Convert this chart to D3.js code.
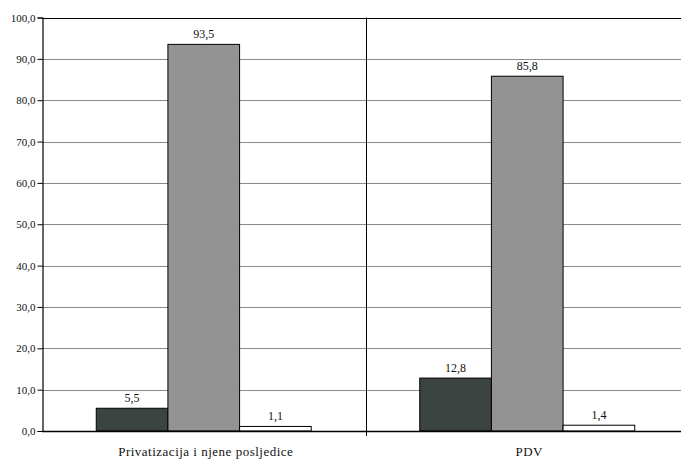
<!DOCTYPE html>
<html>
<head>
<meta charset="utf-8">
<script src="https://cdn.jsdelivr.net/npm/d3@7"></script>
<style>
  body { margin: 0; background: #fff; }
  svg { display: block; font-family: "Liberation Serif", "DejaVu Serif", serif; }
  .grid line { stroke: #8a8a8a; stroke-width: 1; }
</style>
</head>
<body>
<div id="chart"></div>
<script>
var categories = ["Privatizacija i njene posljedice", "PDV"];
var series = ["s1", "s2", "s3"];
var values = [
  [5.5, 93.5, 1.1],
  [12.8, 85.8, 1.4]
];
var yTicks = [0, 10, 20, 30, 40, 50, 60, 70, 80, 90, 100];
var colors = ["#3c4442", "#939393", "#ffffff"];

var W = 681, H = 460;
var pLeft = 42, pRight = 689, pTop = 17.5, pBottom = 431;

var fmt = function(v) { return d3.format(".1f")(v).replace(".", ","); };

var svg = d3.select("#chart")
  .append("svg")
    .attr("width", W)
    .attr("height", H);

var y = d3.scaleLinear().domain([0, 100]).range([pBottom, pTop]);
var x0 = d3.scaleBand().domain(categories).range([pLeft, pRight]);
var x1 = d3.scaleBand().domain(series).range([0, x0.bandwidth()])
  .paddingInner(0).paddingOuter(0.757);

// gridlines
svg.append("g")
  .attr("class", "grid")
  .selectAll("line")
  .data(yTicks.filter(function(d) { return d > 0 && d < 100; }))
  .enter().append("line")
    .attr("x1", pLeft)
    .attr("x2", W)
    .attr("y1", function(d) { return Math.round(y(d)) + 0.5; })
    .attr("y2", function(d) { return Math.round(y(d)) + 0.5; });

// top border
svg.append("line")
  .attr("x1", pLeft).attr("x2", W)
  .attr("y1", Math.round(y(100)) + 0.5).attr("y2", Math.round(y(100)) + 0.5)
  .attr("stroke", "#000");

// category separators
svg.selectAll(".sep")
  .data(categories.slice(1))
  .enter().append("line")
    .attr("class", "sep")
    .attr("x1", function(d) { return Math.round(x0(d)) + 0.5; })
    .attr("x2", function(d) { return Math.round(x0(d)) + 0.5; })
    .attr("y1", y(100))
    .attr("y2", pBottom + 5)
    .attr("stroke", "#000");

// bars
var groups = svg.selectAll(".cat")
  .data(values)
  .enter().append("g")
    .attr("class", "cat")
    .attr("transform", function(d, i) { return "translate(" + x0(categories[i]) + ",0)"; });

groups.selectAll("rect")
  .data(function(d) { return d; })
  .enter().append("rect")
    .attr("x", function(d, i) { return x1(series[i]); })
    .attr("y", function(d) { return y(d); })
    .attr("width", x1.bandwidth())
    .attr("height", function(d) { return pBottom - y(d); })
    .attr("fill", function(d, i) { return colors[i]; })
    .attr("stroke", "#000")
    .attr("stroke-width", 1);

// value labels
groups.selectAll("text")
  .data(function(d) { return d; })
  .enter().append("text")
    .attr("x", function(d, i) { return x1(series[i]) + x1.bandwidth() / 2; })
    .attr("y", function(d) { return y(d) - 6; })
    .attr("text-anchor", "middle")
    .attr("font-size", 12)
    .attr("fill", "#111")
    .text(fmt);

// y axis
var yAxis = d3.axisLeft(y).tickValues(yTicks).tickSize(5).tickFormat(fmt);
svg.append("g")
  .attr("transform", "translate(" + (pLeft + 0.5) + ",0)")
  .call(yAxis)
  .call(function(g) {
    g.select(".domain").attr("stroke", "#000").attr("stroke-width", 1.2);
    g.selectAll("line").attr("stroke", "#000");
    g.selectAll("text")
      .attr("font-family", "Liberation Serif, DejaVu Serif, serif")
      .attr("font-size", 11)
      .attr("fill", "#111")
      .attr("x", -7);
  });

// x axis
svg.append("line")
  .attr("x1", pLeft).attr("x2", W)
  .attr("y1", Math.round(pBottom) + 0.5).attr("y2", Math.round(pBottom) + 0.5)
  .attr("stroke", "#000")
  .attr("stroke-width", 1.4);

svg.selectAll(".catlabel")
  .data(categories)
  .enter().append("text")
    .attr("class", "catlabel")
    .attr("x", function(d) { return x0(d) + x0.bandwidth() / 2 + 2; })
    .attr("y", 456)
    .attr("text-anchor", "middle")
    .attr("font-size", 13)
    .attr("letter-spacing", 0.5)
    .attr("fill", "#111")
    .text(function(d) { return d; });
</script>
</body>
</html>
